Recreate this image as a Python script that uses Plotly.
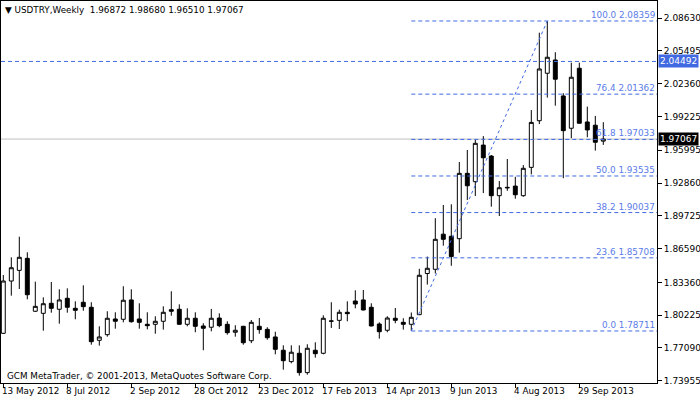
import pandas as pd
import plotly.graph_objects as go

symbol_title = "\u25BC USDTRY,Weekly  1.96872 1.98680 1.96510 1.97067"
copyright_text = "GCM MetaTrader, \u00A9 2001-2013, MetaQuotes Software Corp."

first_week = "2012-05-13"

open_ = [1.7849, 1.8349, 1.8451, 1.8566, 1.8060, 1.8040, 1.8136, 1.8079, 1.8184, 1.8088,
         1.8146, 1.8098, 1.7782, 1.7836, 1.7986, 1.7983, 1.8168, 1.7986, 1.7935, 1.7935,
         1.7964, 1.8075, 1.8079, 1.7935, 1.7993, 1.7919, 1.7907, 1.7995, 1.7935, 1.7859,
         1.7916, 1.7778, 1.7916, 1.7887, 1.7814, 1.7687, 1.7578, 1.7658, 1.7473, 1.7687,
         1.7658, 1.7964, 1.7973, 1.8050, 1.8158, 1.8168, 1.8098, 1.7938, 1.7878, 1.7993,
         1.7954, 1.7935, 1.8027, 1.8421, 1.8461, 1.8797, 1.8777, 1.8754, 1.9379, 1.9299,
         1.9649, 1.9544, 1.9165, 1.9245, 1.9257, 1.9165, 1.9436, 1.9882, 2.0336, 2.0463,
         2.0119, 1.9810, 2.0384, 1.9870, 1.9839, 1.96872]
high_ = [1.8407, 1.8576, 1.8773, 1.8624, 1.8343, 1.8193, 1.8340, 1.8270, 1.8279, 1.8155,
         1.8308, 1.8146, 1.7916, 1.8060, 1.8050, 1.8299, 1.8270, 1.8136, 1.8050, 1.8012,
         1.8107, 1.8251, 1.8126, 1.8088, 1.8050, 1.7945, 1.8082, 1.8040, 1.7964, 1.7926,
         1.7920, 1.7976, 1.7995, 1.7907, 1.7864, 1.7734, 1.7734, 1.7734, 1.7744, 1.7763,
         1.8021, 1.8146, 1.8075, 1.8155, 1.8260, 1.8263, 1.8136, 1.7954, 1.8012, 1.8091,
         1.7993, 1.8048, 1.8466, 1.8583, 1.8950, 1.9076, 1.9083, 1.9487, 1.9602, 1.9704,
         1.9735, 1.9554, 1.9305, 1.9516, 1.9346, 1.9458, 1.9984, 2.0724, 2.08359, 2.0537,
         2.0145, 2.0437, 2.0437, 2.0017, 1.9928, 1.98680]
low_ = [1.7843, 1.8209, 1.8273, 1.8174, 1.8053, 1.7874, 1.8046, 1.7941, 1.8046, 1.7983,
        1.8065, 1.7740, 1.7731, 1.7817, 1.7893, 1.7954, 1.7951, 1.7893, 1.7887, 1.7845,
        1.7884, 1.8017, 1.7932, 1.7916, 1.7859, 1.7687, 1.7868, 1.7907, 1.7836, 1.7817,
        1.7740, 1.7755, 1.7845, 1.7788, 1.7648, 1.7501, 1.7562, 1.7444, 1.7453, 1.7616,
        1.7648, 1.7900, 1.7890, 1.7964, 1.8088, 1.8069, 1.7916, 1.7798, 1.7859, 1.7945,
        1.7884, 1.78711, 1.8024, 1.8315, 1.8421, 1.8687, 1.8495, 1.8620, 1.9124, 1.9162,
        1.9190, 1.9060, 1.8971, 1.9212, 1.9136, 1.9155, 1.9369, 1.9850, 2.0103, 2.0026,
        1.9332, 1.9715, 1.9855, 1.9724, 1.9596, 1.96510]
close_ = [1.8349, 1.8476, 1.8576, 1.8218, 1.8107, 1.8132, 1.8088, 1.8168, 1.8098, 1.8069,
          1.8104, 1.7769, 1.7814, 1.7993, 1.7964, 1.8165, 1.7960, 1.7954, 1.7922, 1.7964,
          1.8050, 1.8060, 1.7935, 1.7993, 1.7916, 1.7897, 1.7993, 1.7922, 1.7855, 1.7878,
          1.7759, 1.7954, 1.7884, 1.7807, 1.7696, 1.7587, 1.7668, 1.7473, 1.7706, 1.7654,
          1.7993, 1.7967, 1.8050, 1.8037, 1.8129, 1.8072, 1.7919, 1.7864, 1.7995, 1.7973,
          1.7935, 1.8002, 1.8404, 1.8471, 1.8748, 1.8748, 1.8583, 1.9379, 1.9260, 1.9666,
          1.9528, 1.9165, 1.9241, 1.9241, 1.9174, 1.9427, 1.9866, 2.0377, 2.0489, 2.0279,
          1.9787, 2.0298, 1.9858, 1.9794, 1.9676, 1.97067]

# Fibonacci retracement (from swing low week to swing high week)
fib_start = ("2013-05-05", 1.78711)
fib_end = ("2013-09-01", 2.08359)
fib_levels = ["0.0", "23.6", "38.2", "50.0", "61.8", "76.4", "100.0"]
fib_prices = [1.78711, 1.85708, 1.90037, 1.93535, 1.97033, 2.01362, 2.08359]

hline_price = 2.04492
bid_price = 1.97067

y_ticks = [2.08630, 2.05495, 2.02360, 1.99225, 1.95995, 1.92860, 1.89725,
           1.86590, 1.83360, 1.80225, 1.77090, 1.73955]
x_tick_dates = ["2012-05-13", "2012-07-08", "2012-09-02", "2012-10-28", "2012-12-23",
                "2013-02-17", "2013-04-14", "2013-06-09", "2013-08-04", "2013-09-29"]
x_tick_labels = ["13 May 2012", "8 Jul 2012", "2 Sep 2012", "28 Oct 2012", "23 Dec 2012",
                 "17 Feb 2013", "14 Apr 2013", "9 Jun 2013", "4 Aug 2013", "29 Sep 2013"]

x_range = ["2012-05-10 23:42", "2013-12-05 23:42"]
y_range = [1.73737, 2.10271]

dates = pd.date_range(first_week, periods=len(open_), freq="7D")

FONT = "DejaVu Sans"
FS = 8.8
BLUE = "#4169E1"

fig = go.Figure()
fig.add_trace(go.Candlestick(
    x=dates, open=open_, high=high_, low=low_, close=close_,
    increasing=dict(line=dict(color="black", width=1), fillcolor="white"),
    decreasing=dict(line=dict(color="black", width=1), fillcolor="black"),
    whiskerwidth=0, showlegend=False, hoverinfo="skip",
))

shapes = []
shapes.append(dict(type="line", xref="x", x0=x_range[0], x1=x_range[1], y0=bid_price, y1=bid_price,
                   line=dict(color="#C0C0C0", width=1), layer="below"))
shapes.append(dict(type="line", xref="x", x0=x_range[0], x1=x_range[1], y0=hline_price, y1=hline_price,
                   line=dict(color=BLUE, width=1, dash="4px,3px"), layer="above"))
for p in fib_prices:
    shapes.append(dict(type="line", xref="x", x0=fib_start[0], x1=x_range[1], y0=p, y1=p,
                       line=dict(color=BLUE, width=1, dash="4px,3px"), layer="above"))
shapes.append(dict(type="line", xref="x", x0=fib_start[0], y0=fib_start[1],
                   x1=fib_end[0], y1=fib_end[1],
                   line=dict(color=BLUE, width=1, dash="dot"), layer="above"))

annotations = []
for lvl, p in zip(fib_levels, fib_prices):
    annotations.append(dict(xref="paper", x=1, xanchor="right", xshift=0,
                            y=p, yanchor="middle", yshift=6,
                            text=f"{lvl} {p:.5f}", showarrow=False,
                            font=dict(family=FONT, size=FS, color="#5B7BE8")))
annotations.append(dict(xref="paper", x=1, xanchor="left", xshift=1, y=hline_price,
                        yanchor="middle", text=f"{hline_price:.5f}", showarrow=False,
                        bgcolor=BLUE, borderpad=1,
                        font=dict(family=FONT, size=9, color="white")))
annotations.append(dict(xref="paper", x=1, xanchor="left", xshift=1, y=bid_price,
                        yanchor="middle", text=f"{bid_price:.5f}", showarrow=False,
                        bgcolor="black", borderpad=1,
                        font=dict(family=FONT, size=9, color="white")))
annotations.append(dict(xref="paper", yref="paper", x=0, y=1, xanchor="left", yanchor="top",
                        xshift=2, yshift=-2, text=symbol_title, showarrow=False,
                        font=dict(family=FONT, size=FS, color="black")))
annotations.append(dict(xref="paper", yref="paper", x=0, y=0, xanchor="left", yanchor="bottom",
                        xshift=4, yshift=0, text=copyright_text, showarrow=False,
                        font=dict(family=FONT, size=FS, color="black")))
for d, lab in zip(x_tick_dates, x_tick_labels):
    annotations.append(dict(xref="x", yref="paper", x=d, y=0, xanchor="left", yanchor="top",
                            xshift=-3, yshift=-1, text=lab, showarrow=False,
                            font=dict(family=FONT, size=FS, color="black")))

fig.update_layout(
    width=700, height=402,
    margin=dict(l=1, r=43, t=1, b=19, pad=0),
    paper_bgcolor="white", plot_bgcolor="white",
    shapes=shapes, annotations=annotations,
    font=dict(family=FONT, size=FS, color="black"),
    xaxis=dict(type="date", range=x_range, rangeslider=dict(visible=False),
               showgrid=False, zeroline=False, showline=True, mirror=True,
               linecolor="black", linewidth=1, automargin=False,
               tickvals=x_tick_dates, showticklabels=False,
               ticks="outside", ticklen=4, tickcolor="black"),
    yaxis=dict(range=y_range, side="right", showgrid=False, zeroline=False,
               showline=True, mirror=True, linecolor="black", linewidth=1, automargin=False,
               tickvals=y_ticks, ticktext=[f"{v:.5f}" for v in y_ticks],
               ticks="outside", ticklen=4, tickcolor="black",
               tickfont=dict(family=FONT, size=9, color="black")),
)

fig.write_html("out.html", config={"displayModeBar": False},
               post_script="document.body.style.margin='0px';document.body.style.padding='0px';")
